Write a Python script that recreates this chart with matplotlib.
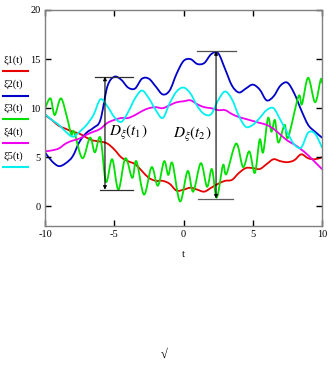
import matplotlib
matplotlib.use("Agg")
import matplotlib.pyplot as plt
from matplotlib.path import Path
from matplotlib.patches import PathPatch

# ---- data ----
t_grid = [-10, -9.5, -9, -8.5, -8, -7.5, -7, -6.5, -6, -5.5, -5, -4.5, -4, -3.5, -3, -2.5, -2,
          -1.5, -1, -0.5, 0, 0.5, 1, 1.5, 2, 2.5, 3, 3.5, 4, 4.5, 5, 5.5, 6, 6.5, 7, 7.5, 8,
          8.5, 9, 9.5, 10]

xi1 = [9.3, 8.8, 8.2, 7.9, 7.6, 7.4, 7.0, 6.7, 6.6, 6.4, 5.8, 5.0, 4.6, 4.3, 3.6, 2.9, 2.6,
       2.6, 2.3, 1.6, 1.7, 1.9, 1.7, 1.5, 1.9, 2.3, 2.6, 2.7, 3.4, 3.9, 3.9, 3.8, 4.3, 4.8, 4.6,
       4.5, 4.7, 5.3, 4.9, 4.8, 5.0]

xi2 = [5.5, 4.6, 4.1, 4.4, 5.1, 6.6, 7.5, 8.0, 8.8, 12.2, 13.2, 12.9, 12.1, 12.0, 13.0, 13.0,
       12.2, 11.4, 11.8, 13.5, 14.8, 15.0, 14.5, 14.6, 15.5, 15.6, 14.0, 12.3, 11.6, 12.0, 12.4,
       11.9, 10.8, 11.2, 12.3, 12.6, 11.5, 9.8, 8.3, 7.6, 7.0]

xi3_t = [-10, -9.6, -9.3, -8.85, -8.4, -8.1, -7.9, -7.3, -6.75, -6.4, -6.0, -5.6, -5.15, -4.7,
         -4.2, -3.7, -3.4, -2.85, -2.3, -1.85, -1.4, -1.1, -0.8, -0.25, 0.3, 0.7, 1.25, 1.7,
         2.05, 2.4, 2.85, 3.1, 3.8, 4.3, 4.75, 5.15, 5.5, 5.75, 6.1, 6.35, 6.6, 6.85, 7.3, 7.55,
         8.3, 8.55, 9.0, 9.5, 9.9, 10]
xi3 = [10.0, 11.0, 9.3, 11.0, 9.0, 7.3, 7.6, 4.9, 7.0, 5.5, 7.0, 2.5, 4.8, 1.7,
       4.9, 2.9, 4.6, 1.2, 4.0, 2.1, 4.6, 3.2, 4.4, 0.5, 3.6, 1.5, 4.4, 2.0,
       3.8, 0.9, 4.2, 3.3, 6.4, 4.0, 5.6, 3.4, 6.8, 5.5, 9.0, 7.6, 8.8, 6.5, 8.3, 7.0,
       11.2, 10.4, 13.1, 10.6, 12.9, 12.6]

xi4 = [5.6, 5.7, 5.9, 6.4, 6.7, 6.9, 7.3, 7.6, 7.9, 8.5, 8.8, 9.0, 9.0, 9.3, 9.7, 10.0, 10.1,
       10.0, 10.3, 10.6, 10.7, 10.8, 10.4, 10.1, 10.0, 9.8, 9.8, 9.4, 9.1, 8.9, 8.7, 8.5, 8.3,
       7.9, 7.3, 6.7, 6.3, 5.8, 5.2, 4.5, 3.8]

xi5 = [9.4, 8.8, 8.3, 7.6, 7.1, 7.6, 8.3, 9.3, 10.9, 10.2, 9.1, 8.6, 9.6, 11.0, 11.8, 11.0,
       9.8, 9.0, 10.5, 11.7, 12.1, 11.5, 10.2, 9.4, 9.4, 10.8, 11.7, 10.9, 9.2, 8.1, 8.3, 9.0,
       9.8, 10.0, 8.8, 7.5, 6.3, 6.0, 7.5, 7.4, 6.0]

series_labels = ["ξ1(t)", "ξ2(t)", "ξ3(t)", "ξ4(t)", "ξ5(t)"]
series_colors = ["#e60000", "#0000c8", "#00e000", "#f000f0", "#00f0f0"]

x_ticks = [-10, -5, 0, 5, 10]
y_ticks = [0, 5, 10, 15, 20]

# annotation values (variance spans)
t1, t1_top, t1_bot = -5.67, 13.2, 1.7
t2, t2_top, t2_bot = 2.35, 15.8, 0.8


def smooth_path(xs, ys):
    """Smooth curve through the read points (Catmull-Rom drawn as cubic Bezier)."""
    pts = list(zip(xs, ys))
    n = len(pts)
    verts = [pts[0]]
    codes = [Path.MOVETO]
    for i in range(n - 1):
        p0 = pts[i - 1] if i > 0 else pts[i]
        p1 = pts[i]
        p2 = pts[i + 1]
        p3 = pts[i + 2] if i + 2 < n else pts[i + 1]
        c1 = (p1[0] + (p2[0] - p0[0]) / 6, p1[1] + (p2[1] - p0[1]) / 6)
        c2 = (p2[0] - (p3[0] - p1[0]) / 6, p2[1] - (p3[1] - p1[1]) / 6)
        verts += [c1, c2, p2]
        codes += [Path.CURVE4] * 3
    return Path(verts, codes)


# ---- figure ----
W, H = 333, 368
fig = plt.figure(figsize=(W / 100, H / 100), dpi=100)
plt.rcParams['mathtext.fontset'] = 'stix'
serif = ['Liberation Serif', 'DejaVu Serif']

ax = fig.add_axes([45 / W, 1 - 226 / H, (322 - 45) / W, (226 - 10) / H])
ax.set_xlim(-10, 10)
ax.set_ylim(-2, 20)

series = [(t_grid, xi1), (t_grid, xi2), (xi3_t, xi3), (t_grid, xi4), (t_grid, xi5)]
for (tt, vv), c in zip(series, series_colors):
    ax.add_patch(PathPatch(smooth_path(tt, vv), facecolor='none', edgecolor=c,
                           lw=1.3, joinstyle='round', capstyle='round'))

# frame & ticks
for s in ax.spines.values():
    s.set_color('#808080')
    s.set_linewidth(1.0)
ax.set_xticks(x_ticks)
ax.set_yticks(y_ticks)
ax.tick_params(direction='in', length=4, width=1, color='black',
               top=True, right=True, labelsize=7.5, pad=3)
ax.set_xticklabels(["-10", "-5", "0", "5", "10"])
for lab in ax.get_xticklabels() + ax.get_yticklabels():
    lab.set_family(serif)

ax.text(0, -4.9, "t", ha='center', va='center', fontsize=8, family=serif)

# variance markers
for tx, top, bot in [(t1, t1_top, t1_bot), (t2, t2_top, t2_bot)]:
    ax.annotate("", xy=(tx, top), xytext=(tx, bot),
                arrowprops=dict(arrowstyle='<|-|>', color='black', lw=0.8,
                                mutation_scale=5, shrinkA=0, shrinkB=0))
ax.plot([-6.4, -3.65], [t1_top, t1_top], color='#303030', lw=0.9)
ax.plot([-6.0, -3.65], [t1_bot, t1_bot], color='#303030', lw=0.9)
ax.plot([0.97, 3.8], [t2_top, t2_top], color='#505050', lw=0.9)
ax.plot([1.05, 3.57], [t2_bot, t2_bot], color='#606060', lw=0.9)

ax.text(-5.4, 7.5, r"$D_{\xi}(t_1)$", fontsize=11, ha='left', va='center')
ax.text(-0.75, 7.3, r"$D_{\xi}(t_2)$", fontsize=11, ha='left', va='center')

# legend-like labels on the left
text_y = [60, 84, 108, 132, 156]
line_y = [71, 96, 119, 143, 167]
for lab, c, ty, ly in zip(series_labels, series_colors, text_y, line_y):
    fig.text(4 / W, 1 - ty / H, lab, fontsize=7.5, family=serif, ha='left', va='center')
    fig.add_artist(plt.Line2D([3 / W, 28 / W], [1 - ly / H, 1 - ly / H],
                              color=c, lw=1.5, transform=fig.transFigure))

fig.text(164 / W, 1 - 355 / H, "√", fontsize=9, family=serif, ha='center', va='center')

fig.savefig("out.png", dpi=100)
